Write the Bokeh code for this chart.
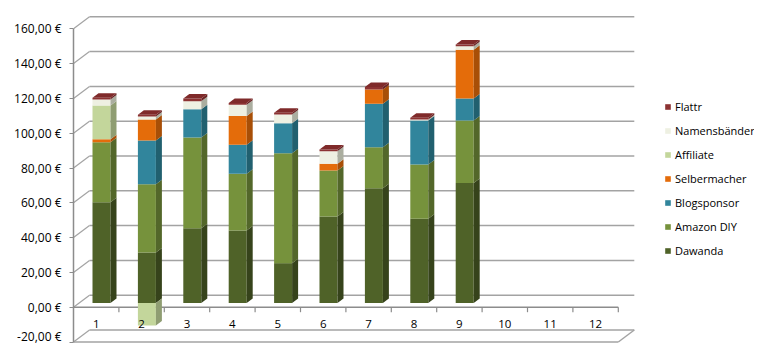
import numpy as np
from bokeh.plotting import figure
from bokeh.models import Range1d, LinearAxis, FixedTicker, Legend, LegendItem, ColumnDataSource
from bokeh.core.properties import value
from bokeh.embed import file_html
from bokeh.resources import INLINE

# ---------------- data ----------------
categories = ["1", "2", "3", "4", "5", "6", "7", "8", "9", "10", "11", "12"]
dawanda = [57.9, 29.0, 43.0, 41.7, 22.9, 49.7, 66.0, 48.4, 68.9, 0, 0, 0]
amazon_diy = [34.5, 39.3, 52.1, 32.6, 63.2, 26.4, 23.5, 31.2, 36.0, 0, 0, 0]
blogsponsor = [0, 25.1, 16.3, 16.6, 17.2, 0, 25.0, 25.3, 12.6, 0, 0, 0]
selbermacher = [1.7, 12.1, 0, 16.5, 0, 3.9, 8.2, 0, 28.0, 0, 0, 0]
affiliate = [19.4, -12.9, 0, 0, 0, 0, 0, 0, 0, 0, 0, 0]
namensbaender = [3.5, 1.7, 4.6, 6.5, 5.0, 7.2, 0, 0.5, 2.1, 0, 0, 0]
flattr = [1.0, 1.0, 1.5, 1.0, 1.0, 1.0, 1.5, 1.0, 1.0, 0, 0, 0]

series_names = ["Dawanda", "Amazon DIY", "Blogsponsor", "Selbermacher", "Affiliate", "Namensbänder", "Flattr"]
series_values = [dawanda, amazon_diy, blogsponsor, selbermacher, affiliate, namensbaender, flattr]
front_colors = ["#4F6228", "#76923C", "#31859C", "#E46C0A", "#C3D69B", "#EEF0E2", "#8C3232"]
side_colors = ["#36431B", "#53672A", "#21606F", "#A84F07", "#8F9D72", "#ABAEA0", "#6A2424"]
top_colors = ["#5A6F2E", "#82A042", "#3893AC", "#EC7A1C", "#CFE0AA", "#F5F6EC", "#7F2A2A"]

y_ticks = [-20, 0, 20, 40, 60, 80, 100, 120, 140, 160]
y_tick_labels = ["-20,00 €", "0,00 €", "20,00 €", "40,00 €", "60,00 €", "80,00 €",
                 "100,00 €", "120,00 €", "140,00 €", "160,00 €"]

# ---------------- layout constants ----------------
W, H = 754, 344
LEFT = 73
TOP = 8
px_per_cat = 45.4
px_per_unit = 1.74
x_start = 0.5
x_end = 0.5 + (W - LEFT) / px_per_cat
y_end = (306.7 - TOP) / px_per_unit
y_start = y_end - (H - TOP) / px_per_unit

ddx = 16 / px_per_cat       # wall depth
ddy = 12 / px_per_unit
ox = 5.3 / px_per_cat        # bar front offset in depth
oy = 4.2 / px_per_unit
bw = 18 / px_per_cat         # bar width
bdx = 6 / px_per_cat         # bar depth
bdy = 4.5 / px_per_unit

font = "Open Sans"
grid_col = "#A3A3A3"

p = figure(width=W, height=H, output_backend="svg", toolbar_location=None,
           x_range=Range1d(x_start, x_end), y_range=Range1d(y_start, y_end),
           x_axis_type=None, y_axis_type=None, title=None,
           min_border_left=LEFT, min_border_right=0, min_border_top=TOP, min_border_bottom=0)
p.outline_line_color = None
p.grid.visible = False
p.background_fill_color = "white"

# ---------------- y axis (front) ----------------
yaxis = LinearAxis(ticker=FixedTicker(ticks=y_ticks), bounds=(min(y_ticks), max(y_ticks)))
yaxis.major_label_overrides = {t: l for t, l in zip(y_ticks, y_tick_labels)}
yaxis.axis_line_color = "#8C8C8C"
yaxis.axis_line_width = 1.5
yaxis.major_tick_line_color = "#8C8C8C"
yaxis.major_tick_out = 4
yaxis.major_tick_in = 0
yaxis.minor_tick_line_color = None
yaxis.major_label_text_font = font
yaxis.major_label_text_font_size = "12px"
yaxis.major_label_text_color = "#000000"
yaxis.major_label_standoff = 8
p.add_layout(yaxis, "left")

# ---------------- walls / gridlines ----------------
x0f = 0.5
x1f = len(categories) + 0.5
yt = np.array(y_ticks, dtype=float)
# back wall gridlines
p.segment(x0=[x0f + ddx] * len(yt), y0=yt + ddy, x1=[x1f + ddx] * len(yt), y1=yt + ddy,
          line_color=grid_col, line_width=1.5)
# diagonal connectors on the side wall
p.segment(x0=[x0f] * len(yt), y0=yt, x1=[x0f + ddx] * len(yt), y1=yt + ddy,
          line_color=grid_col, line_width=1.2)
# floor at bottom
ymin = float(min(y_ticks))
p.segment(x0=[x0f, x1f], y0=[ymin, ymin], x1=[x1f, x1f + ddx], y1=[ymin, ymin + ddy],
          line_color=grid_col, line_width=1.5)
# category axis at 0 with ticks
p.segment(x0=[x0f], y0=[0], x1=[x1f], y1=[0], line_color="#8C8C8C", line_width=1.5)
bounds = np.arange(1.5, x1f + 0.01, 1.0)
p.segment(x0=bounds, y0=[0] * len(bounds), x1=bounds, y1=[-5 / px_per_unit] * len(bounds),
          line_color="#8C8C8C", line_width=1.2)

# ---------------- bars ----------------
xc = np.arange(1, len(categories) + 1, dtype=float)
pos = np.zeros(len(xc))
neg = np.zeros(len(xc))
front_renderers = []
top_color_idx = [-1] * len(xc)
for si, (name, vals) in enumerate(zip(series_names, series_values)):
    v = np.array(vals, dtype=float)
    bottom = np.where(v >= 0, pos, neg + v)
    top = np.where(v >= 0, pos + v, neg)
    pos = pos + np.where(v > 0, v, 0)
    neg = neg + np.where(v < 0, v, 0)
    for i in range(len(xc)):
        if v[i] > 0:
            top_color_idx[i] = si
    xl = xc + ox - bw / 2
    xr = xc + ox + bw / 2
    src = ColumnDataSource(dict(left=xl, right=xr, bottom=bottom + oy, top=top + oy))
    r = p.quad(left="left", right="right", bottom="bottom", top="top", source=src,
               fill_color=front_colors[si], line_color=None)
    front_renderers.append(r)
    xs, ys = [], []
    for i in range(len(xc)):
        if v[i] != 0:
            xs.append([xr[i], xr[i] + bdx, xr[i] + bdx, xr[i]])
            ys.append([bottom[i] + oy, bottom[i] + oy + bdy, top[i] + oy + bdy, top[i] + oy])
    if xs:
        p.patches(xs=xs, ys=ys, fill_color=side_colors[si], line_color=None)

# top faces
txs, tys, tcs = [], [], []
for i in range(len(xc)):
    if pos[i] > 0:
        xl = xc[i] + ox - bw / 2
        xr = xc[i] + ox + bw / 2
        T = pos[i] + oy
        txs.append([xl, xr, xr + bdx, xl + bdx])
        tys.append([T, T, T + bdy, T + bdy])
        tcs.append(top_colors[top_color_idx[i]])
p.patches(xs=txs, ys=tys, fill_color=tcs, line_color=None)

# category labels
p.text(x=xc, y=[-9.4] * len(xc), text=categories, text_font=value(font),
       text_font_size="11.5px", text_align="center", text_baseline="middle",
       text_color="#000000")

# ---------------- legend ----------------
items = [LegendItem(label=n, renderers=[r]) for n, r in zip(series_names, front_renderers)][::-1]
legend = Legend(items=items, location=(591, 84), padding=0, margin=0,
                glyph_width=7, glyph_height=7, label_height=20, spacing=4,
                label_standoff=4, label_text_font=font, label_text_font_size="11px",
                label_text_color="#000000", border_line_color=None,
                background_fill_alpha=0)
p.add_layout(legend)

open("out.html", "w").write(file_html(p, INLINE))
